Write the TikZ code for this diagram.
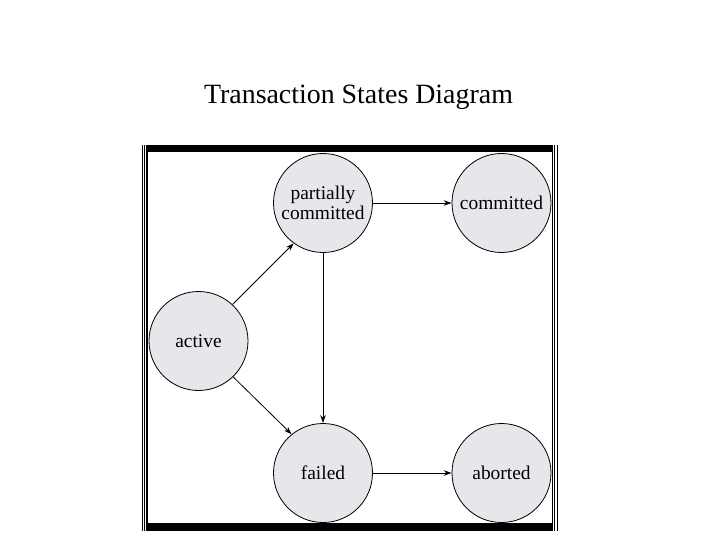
\documentclass[tikz,border=0pt]{standalone}
\usepackage{fontspec}
\setmainfont{Liberation Serif}
\usetikzlibrary{arrows.meta}
\definecolor{stgray}{RGB}{232,230,235}

\begin{document}
\begin{tikzpicture}[x=1bp, y=-1bp,
    stnode/.style={circle, draw, line width=0.8bp, fill=stgray, minimum size=99bp,
      inner sep=0pt, align=center, font=\fontsize{19.5}{20.5}\selectfont},
    trans/.style={line width=0.8bp, -{Stealth[length=8bp,width=5.5bp]}}]
  \useasboundingbox (0,0) rectangle (720,540);
  \node[anchor=base, font=\fontsize{28}{30}\selectfont] (title) at (358.5,104) {Transaction States Diagram};
  % the five states
  \node[stnode] (pc) at (323,203) {partially\\committed};
  \node[stnode] (com) at (501.5,203) {committed};
  \node[stnode] (act) at (198.5,341) {active};
  \node[stnode] (fail) at (323,473) {failed};
  \node[stnode] (abo) at (501.5,473) {aborted};
  % transitions
  \draw[trans] (act.47) -- (pc.234); \draw[trans] (act.-46) -- (fail.129);
  \draw[trans] (pc) -- (com); \draw[trans] (pc.south) -- (fail.north);
  \draw[trans] (fail) -- (abo);
  % frame
  \fill (146,145.5) rectangle (553,152.5); \fill (146,523) rectangle (553,530.5);
  \foreach \x/\w in {142/0.9, 144.6/0.9, 147/1.5, 552.5/1.8, 554.8/0.9, 557/0.9}
    \draw[line width=\w bp] (\x,145) -- (\x,531);
\end{tikzpicture}
\end{document}
